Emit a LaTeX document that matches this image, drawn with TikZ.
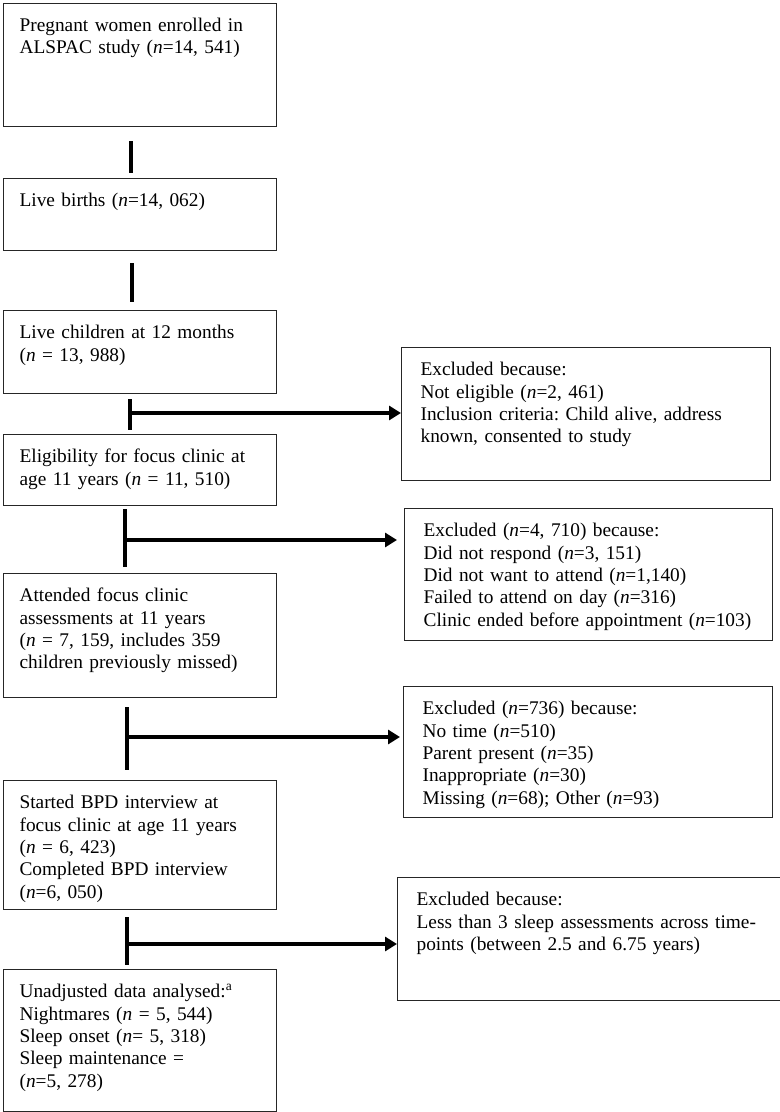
\documentclass[tikz,border=0pt]{standalone}
\usepackage{fontspec}
\setmainfont{Liberation Serif}
\frenchspacing
\usetikzlibrary{arrows.meta}
\usetikzlibrary{positioning}

\tikzset{
  stage/.style={draw=black!85, line width=0.9pt, anchor=north west, align=left,
    text width=180.75pt, inner xsep=12pt, inner ysep=9pt, text height=12pt,
    font=\fontsize{14.5pt}{16.8pt}\selectfont},
  excl/.style={stage, inner xsep=14.25pt},
  stem/.style={line width=2.4pt},
  arrow/.style={stem, -{Triangle[length=9pt,width=10.5pt]}}
}

\begin{document}
\begin{tikzpicture}[x=0.75pt, y=-0.75pt]
    \useasboundingbox (0,0) rectangle (780,1112);
    % main column
    \node[stage, text depth=62.25pt] (b1) at (3,3) {Pregnant women enrolled in\\ALSPAC study (\textit{n}=14, 541)};
    \node[stage, text depth=24pt] (b2) at (3,178) {Live births (\textit{n}=14, 062)};
    \node[stage, text depth=32.25pt] (b3) at (3,310) {Live children at 12 months\\(\textit{n} = 13, 988)};
    \node[stage, text depth=23.25pt] (b4) at (3,434) {Eligibility for focus clinic at\\age 11 years (\textit{n} = 11, 510)};
    \node[stage, text depth=63pt] (b5) at (3,573) {Attended focus clinic\\assessments at 11 years\\(\textit{n} = 7, 159, includes 359\\children previously missed)};
    \node[stage, text depth=66.75pt] (b6) at (3,780) {Started BPD interview at\\focus clinic at age 11 years\\(\textit{n} = 6, 423)\\Completed BPD interview\\(\textit{n}=6, 050)};
    \node[stage, text depth=76.5pt] (b7) at (3,969) {Unadjusted data analysed:\textsuperscript{a}\\Nightmares (\textit{n} = 5, 544)\\Sleep onset (\textit{n}= 5, 318)\\Sleep maintenance =\\(\textit{n}=5, 278)};
    % exclusions
    \node[excl, text width=248.25pt, text depth=69.75pt] (x1) at (401,347) {Excluded because:\\Not eligible (\textit{n}=2, 461)\\Inclusion criteria: Child alive, address\\known, consented to study};
    \node[excl, text width=247.5pt, text depth=69pt] (x2) at (404,508) {Excluded (\textit{n}=4, 710) because:\\Did not respond (\textit{n}=3, 151)\\Did not want to attend (\textit{n}=1,140)\\Failed to attend on day (\textit{n}=316)\\Clinic ended before appointment (\textit{n}=103)};
    \node[excl, text width=248.25pt, text depth=68.25pt] (x3) at (403,686) {Excluded (\textit{n}=736) because:\\No time (\textit{n}=510)\\Parent present (\textit{n}=35)\\Inappropriate (\textit{n}=30)\\Missing (\textit{n}=68); Other (\textit{n}=93)};
    \node[excl, text width=258.75pt, text depth=62.25pt] (x4) at (397,877) {Excluded because:\\Less than 3 sleep assessments across time-\\points (between 2.5 and 6.75 years)};
    % spines and junctions
    \coordinate (s1) at (131,0);
    \coordinate (s2) at (132,0);
    \coordinate (j1) at (130,413);
    \coordinate (j2) at (125,540);
    \coordinate (j3) at (127,737);
    \coordinate (j4) at (127,944);
    \draw[stem, shorten <=10.5pt, shorten >=3.75pt] (s1 |- b1.south) -- (s1 |- b2.north);
    \draw[stem, shorten <=9pt, shorten >=6pt] (s2 |- b2.south) -- (s2 |- b3.north);
    \draw[stem, shorten <=3.75pt, shorten >=3pt] (j1 |- b3.south) -- (j1 |- b4.north);
    \draw[stem, shorten <=2.25pt, shorten >=4.5pt] (j2 |- b4.south) -- (j2 |- b5.north);
    \draw[stem, shorten <=6.75pt, shorten >=7.5pt] (j3 |- b5.south) -- (j3 |- b6.north);
    \draw[stem, shorten <=5.25pt, shorten >=3pt] (j4 |- b6.south) -- (j4 |- b7.north);
    \draw[arrow] (j1) -- (j1 -| x1.west);
    \draw[arrow, shorten >=5.25pt] (j2) -- (j2 -| x2.west);
    \draw[arrow, shorten >=2.25pt] (j3) -- (j3 -| x3.west);
    \draw[arrow] (j4) -- (j4 -| x4.west);
\end{tikzpicture}
\end{document}
